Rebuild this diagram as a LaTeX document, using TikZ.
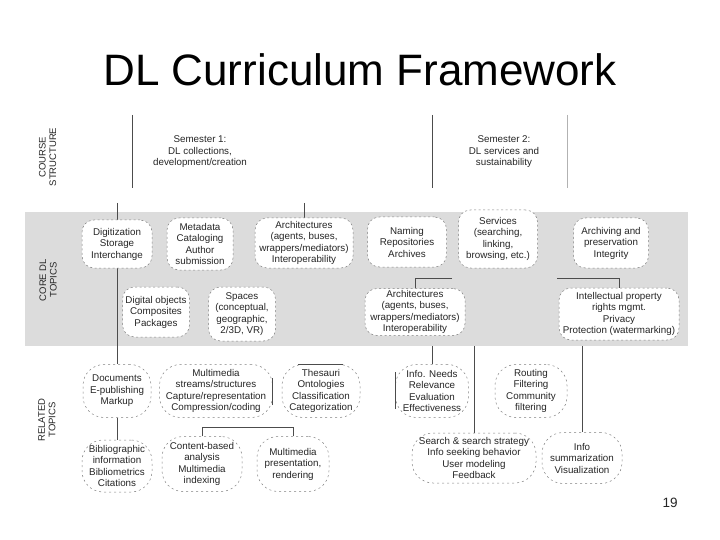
\documentclass[tikz,border=0pt]{standalone}
\usepackage{fontspec}
\setmainfont{Liberation Sans}
\pgfdeclarelayer{bandlayer}
\pgfdeclarelayer{linelayer}
\pgfsetlayers{bandlayer,linelayer,main}
\tikzset{
  txt/.style={align=center, text=black!85, font=\fontsize{9.8}{11.5}\selectfont, inner sep=0pt},
  corebox/.style={txt, draw=black!50, dash pattern=on 2pt off 2.5pt, line width=0.5pt, fill=white, rounded corners=12pt},
  relbox/.style={txt, draw=black!50, dash pattern=on 2pt off 3pt, line width=0.5pt, fill=white, rounded corners=21pt},
  sidelabel/.style={align=center, text=black!85, font=\fontsize{9.5}{10.5}\selectfont, rotate=90, inner sep=0pt},
  conn/.style={draw=black!70, line width=0.7pt},
  sz/.style 2 args={minimum width=#1pt, minimum height=#2pt}
}
\begin{document}
\begin{tikzpicture}[x=1pt,y=-1pt]
\useasboundingbox (0,0) rectangle (720,540);

% title
\node[font=\fontsize{44}{50}\selectfont, text=black] (title) at (360,70) {DL Curriculum Framework};

% band
\begin{pgfonlayer}{bandlayer}
\fill[white] (0,0) rectangle (720,540);
\node[fill={rgb,255:red,220;green,220;blue,220}, minimum width=663pt, minimum height=134pt, inner sep=0pt, anchor=north west] (band) at (25,212) {};
\end{pgfonlayer}

% side labels
\node[sidelabel] (lcourse) at (47.5,157) {COURSE\\STRUCTURE};
\node[sidelabel] (lcore) at (48,280) {CORE DL\\TOPICS};
\node[sidelabel] (lrel) at (47,420) {RELATED\\TOPICS};

% course structure
\coordinate (cs1t) at (132,115); \coordinate (cs1b) at (132,188);
\coordinate (cs2t) at (432,115); \coordinate (cs2b) at (432,188);
\coordinate (cs3t) at (567,115); \coordinate (cs3b) at (567,188);
\draw[conn] (cs1t) -- (cs1b);
\draw[conn] (cs2t) -- (cs2b);
\draw[draw=black!30, line width=0.7pt] (cs3t) -- (cs3b);
\node[txt] (sem1) at (200,152) {Semester 1:\\DL collections,\\development/creation};
\node[txt] (sem2) at (504,152) {Semester 2:\\DL services and\\sustainability};

% core boxes
\node[corebox, sz={70}{48}] (dig) at (117,244) {Digitization\\Storage\\Interchange};
\node[corebox, sz={66}{52}] (meta) at (200,244) {Metadata\\Cataloging\\Author\\submission};
\node[corebox, sz={98}{50}] (arch1) at (304,243) {Architectures\\(agents, buses,\\wrappers/mediators)\\Interoperability};
\node[corebox, sz={67}{50}] (dobj) at (156,312) {Digital objects\\Composites\\Packages};
\node[corebox, sz={67}{54}] (spaces) at (242,314) {Spaces\\(conceptual,\\geographic,\\2/3D, VR)};
\node[corebox, sz={79}{50}] (naming) at (407,242) {Naming\\Repositories\\Archives};
\node[corebox, sz={79}{58}] (services) at (498,239) {Services\\(searching,\\linking,\\browsing, etc.)};
\node[corebox, sz={75}{50}] (archiving) at (611,243) {Archiving and\\preservation\\Integrity};
\node[corebox, sz={100}{47}] (arch2) at (415,312) {Architectures\\(agents, buses,\\wrappers/mediators)\\Interoperability};
\node[corebox, sz={120}{52}] (ip) at (619,314) {Intellectual property\\rights mgmt.\\Privacy\\Protection (watermarking)};

% related boxes
\node[relbox, sz={68}{53}] (doc) at (117,391) {Documents\\E-publishing\\Markup};
\node[relbox, sz={113}{53}] (mm) at (216,391) {Multimedia\\streams/structures\\Capture/representation\\Compression/coding};
\node[relbox, sz={78}{53}] (thes) at (321,391) {Thesauri\\Ontologies\\Classification\\Categorization};
\node[relbox, sz={70}{52}] (bib) at (117,466) {Bibliographic\\information\\Bibliometrics\\Citations};
\node[relbox, sz={80}{55}] (cb) at (202,464) {Content-based\\analysis\\Multimedia\\indexing};
\node[relbox, sz={72}{55}] (pres) at (293,464) {Multimedia\\presentation,\\rendering};
\node[relbox, sz={73}{53}] (needs) at (432,391) {Info. Needs\\Relevance\\Evaluation\\Effectiveness};
\node[relbox, sz={72}{53}] (routing) at (531,391) {Routing\\Filtering\\Community\\filtering};
\node[relbox, sz={124}{50}] (search) at (474,458) {Search \& search strategy\\Info seeking behavior\\User modeling\\Feedback};
\node[relbox, sz={80}{51}] (summ) at (582,458) {Info\\summarization\\Visualization};

% solid edge fragments of some boxes
\draw[conn] ([yshift=-14pt]mm.east) -- ([yshift=13pt]mm.east);
\draw[conn] ([xshift=-23pt]thes.north) -- ([xshift=22pt]thes.north);
\draw[conn] ([yshift=-18pt]needs.west) -- ([yshift=19pt]needs.west);

% connectors
\coordinate (top1) at (117,203);
\coordinate (top2) at (304,203);
\coordinate (c1) at (452,278);
\coordinate (c2) at (557,278);
\begin{pgfonlayer}{linelayer}
\draw[conn] (top1) -- (dig.north);
\draw[conn] (dig.south) -- (doc.north);
\draw[conn] (doc.south) -- (bib.north);
\draw[conn] (top2) -- (arch1.north);
\draw[conn] (c1) -| (arch2.north);
\draw[conn] (c2) -| (ip.north);
\draw[conn] (band.south -| needs.north) -- (needs.north);
\draw[conn] (band.south -| search.north) -- (search.north);
\draw[conn] (band.south -| summ.north) -- (summ.north);
\draw[conn] (cb.north) -- ++(0,-9) -| (pres.north);
\end{pgfonlayer}

% page number
\node[font=\fontsize{13.5}{15}\selectfont, text=black!85, inner sep=0pt] (pnum) at (670,503) {19};
\end{tikzpicture}
\end{document}
